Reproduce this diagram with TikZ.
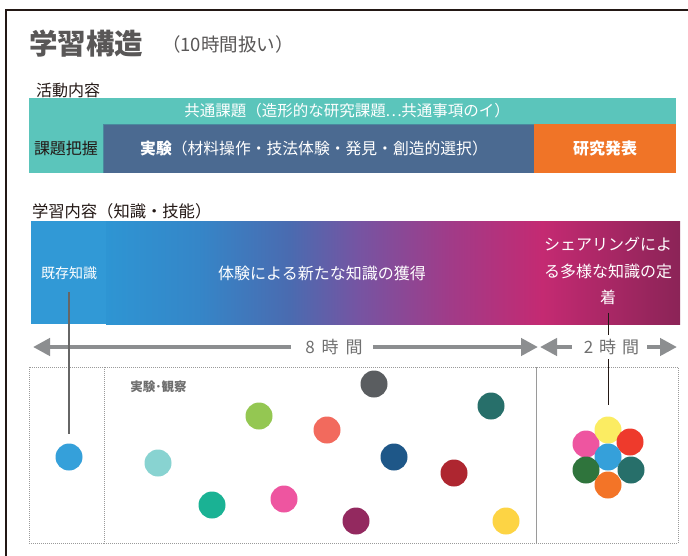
\documentclass[tikz,border=0pt]{standalone}
\usepackage{fontspec}
\setmainfont{Noto Sans CJK JP}
\usetikzlibrary{arrows.meta}
\definecolor{framec}{HTML}{231815}
\definecolor{titlegray}{HTML}{595757}
\definecolor{inkc}{HTML}{231815}
\definecolor{tealbar}{HTML}{5BC5BB}
\definecolor{bluecell}{HTML}{4B6A91}
\definecolor{bluecellline}{HTML}{4A8A9E}
\definecolor{orangecell}{HTML}{F07427}
\definecolor{kizonc}{HTML}{3199D6}
\definecolor{g0}{HTML}{2E95D3}
\definecolor{g1}{HTML}{3586C8}
\definecolor{g2}{HTML}{4A6BB0}
\definecolor{g3}{HTML}{7654A2}
\definecolor{g4}{HTML}{A13B88}
\definecolor{g5}{HTML}{C42A72}
\definecolor{g6}{HTML}{8B2457}
\definecolor{arrowgray}{HTML}{8C8E90}
\definecolor{timegray}{HTML}{707070}
\definecolor{boxgray}{HTML}{9A9A9A}
\definecolor{linkgray}{HTML}{666666}
\definecolor{obsgray}{HTML}{6E6E6E}
\definecolor{cA}{HTML}{35A0DA}
\definecolor{cB}{HTML}{88D3D1}
\definecolor{cC}{HTML}{94C752}
\definecolor{cD}{HTML}{F26A5D}
\definecolor{cE}{HTML}{1AB294}
\definecolor{cF}{HTML}{EE55A0}
\definecolor{cG}{HTML}{93295F}
\definecolor{cH}{HTML}{5A5D60}
\definecolor{cI}{HTML}{276F6A}
\definecolor{cJ}{HTML}{1E5788}
\definecolor{cK}{HTML}{AE2630}
\definecolor{cL}{HTML}{FDD444}
\definecolor{cM}{HTML}{FBEC62}
\definecolor{cN}{HTML}{EE3A2C}
\definecolor{cO}{HTML}{2F743C}
\definecolor{cP}{HTML}{F37427}
\pgfdeclarehorizontalshading{knowgrad}{100bp}{color(0bp)=(g0); color(25bp)=(g0); color(33bp)=(g1); color(41bp)=(g2); color(47bp)=(g3); color(55bp)=(g4); color(63bp)=(g5); color(75bp)=(g6); color(100bp)=(g6)}
\tikzset{
  txt/.style={inner sep=0pt, outer sep=0pt},
  cell/.style={inner sep=0pt, outer sep=0pt, minimum height=49pt},
  kbar/.style={inner sep=0pt, outer sep=0pt, minimum height=103pt},
  dot/.style={circle, inner sep=0pt, outer sep=0pt, minimum size=27pt},
  dbox/.style={draw=boxgray, dash pattern=on 1pt off 1pt, line width=1pt, inner sep=0pt, outer sep=0pt, minimum height=176pt},
  garrow/.style={draw=arrowgray, line width=4.5pt, -{Triangle[length=17pt,width=17pt]}},
  link/.style={draw=linkgray, line width=1.3pt},
  link2/.style={draw=framec, line width=1pt},
  timelbl/.style={inner xsep=0pt, inner ysep=4pt, fill=white, text=timegray, font=\fontsize{17}{17}\selectfont},
}
\begin{document}
\begin{tikzpicture}[x=1pt,y=-1pt]
\useasboundingbox (0,0) rectangle (688,555);
\clip (0,0) rectangle (688,555);
\fill[white] (0,0) rectangle (688,555);
% frame
\draw[framec, line width=2pt] (6,570) -- (6,10) -- (700,10);
% title
\node[txt, anchor=west, text=titlegray, font=\fontsize{28.5}{28.5}\selectfont\bfseries] (title) at (29,44) {学習構造};
\node[txt, anchor=west, text=titlegray, font=\fontsize{18.5}{18.5}\selectfont] (sub) at (162,44) {（10時間扱い）};
% activity
\node[txt, anchor=west, text=inkc, font=\fontsize{16}{16}\selectfont] (act) at (36,90) {活動内容};
\node[txt, fill=tealbar, minimum width=647pt, minimum height=26pt] (common) at (352.5,111) {};
\node[txt, text=white, font=\fontsize{15.5}{15.5}\selectfont] (commontxt) at (347,111) {共通課題（造形的な研究課題\makebox[15.5pt]{…}共通事項のイ）};
\node[cell, fill=tealbar, minimum width=74pt, text=inkc, font=\fontsize{16}{16}\selectfont] (grasp) at (66,148.5) {課題把握};
\node[cell, fill=bluecell, minimum width=431pt] (exp) at (318.5,148.5) {};
\draw[bluecellline, line width=1pt] (exp.south west) -- (exp.north west) -- (exp.north east);
\node[txt, text=white, font=\fontsize{15.8}{15.8}\selectfont] (exptxt) at (314,148.5) {\textbf{実験}（材料操作・技法体験・発見・創造的選択）};
\node[cell, fill=orangecell, minimum width=142pt, text=white, font=\fontsize{16}{16}\selectfont\bfseries] (pres) at (605,148.5) {研究発表};
% knowledge
\node[txt, anchor=west, text=inkc, font=\fontsize{16.3}{16.3}\selectfont] (learn) at (32,211) {学習内容（知識・技能）};
\node[kbar, fill=kizonc, minimum width=75pt] (kbarl) at (68.5,272.5) {};
\node[kbar, shading=knowgrad, minimum width=574pt] (kbarr) at (393,272.5) {};
\node[txt, text=white, font=\fontsize{14}{14}\selectfont] (kizon) at (69,273) {既存知識};
\node[txt, text=white, font=\fontsize{16}{16}\selectfont] (newk) at (322,273) {体験による新たな知識の獲得};
\node[txt, text=white, align=center, font=\fontsize{16}{26.5}\selectfont] (share) at (608,271) {シェアリングによ\\る多様な知識の定\\着};
% boxes
\node[dbox, minimum width=75pt] (boxl) at (66.5,455) {};
\node[dbox, minimum width=432pt] (boxm) at (320,455) {};
\node[dbox, minimum width=142pt] (boxr) at (607,455) {};
\node[txt, text=obsgray, font=\fontsize{12.5}{12.5}\selectfont\bfseries] (obs) at (158.5,387) {実験･観察};
% circles
\node[dot, fill=cA] (c0) at (69,457) {};
\node[dot, fill=cB] (c1) at (158,463) {};
\node[dot, fill=cC] (c2) at (259,416) {};
\node[dot, fill=cD] (c3) at (327,430) {};
\node[dot, fill=cE] (c4) at (212,505) {};
\node[dot, fill=cF] (c5) at (284,499) {};
\node[dot, fill=cG] (c6) at (356,521) {};
\node[dot, fill=cH] (c7) at (374,384) {};
\node[dot, fill=cI] (c8) at (491,406) {};
\node[dot, fill=cJ] (c9) at (394,457) {};
\node[dot, fill=cK] (c10) at (454,473) {};
\node[dot, fill=cL] (c11) at (506,521) {};
% cluster
\node[dot, fill=cF] (kp) at (586,444) {};
\node[dot, fill=cM] (ky) at (608,430) {};
\node[dot, fill=cN] (kr) at (630,442) {};
\node[dot, fill=cA] (kb) at (608,457) {};
\node[dot, fill=cO] (kg) at (586,470) {};
\node[dot, fill=cI] (kt) at (631,470) {};
\node[dot, fill=cP] (ko) at (608,485) {};
% links
\draw[link2, shorten <=8pt, shorten >=12pt] (share.south) -- (ky.north);
% time arrows
\coordinate (a8l) at (33,347);
\coordinate (a8r) at (538,347);
\coordinate (a2l) at (540,347);
\coordinate (a2r) at (677,347);
\node[timelbl] (t8) at (334,347) {8\hspace{7pt}時\hspace{7pt}間};
\node[timelbl] (t2) at (611.5,347) {2\hspace{6pt}時\hspace{6pt}間};
\draw[garrow] ([xshift=-14pt]t8.west) -- (a8l);
\draw[garrow] ([xshift=10pt]t8.east) -- (a8r);
\draw[garrow] ([xshift=-12pt]t2.west) -- (a2l);
\draw[garrow] ([xshift=8pt]t2.east) -- (a2r);
\draw[link, shorten <=13pt, shorten >=10pt] (kizon.south) -- (c0.north);
\end{tikzpicture}
\end{document}
